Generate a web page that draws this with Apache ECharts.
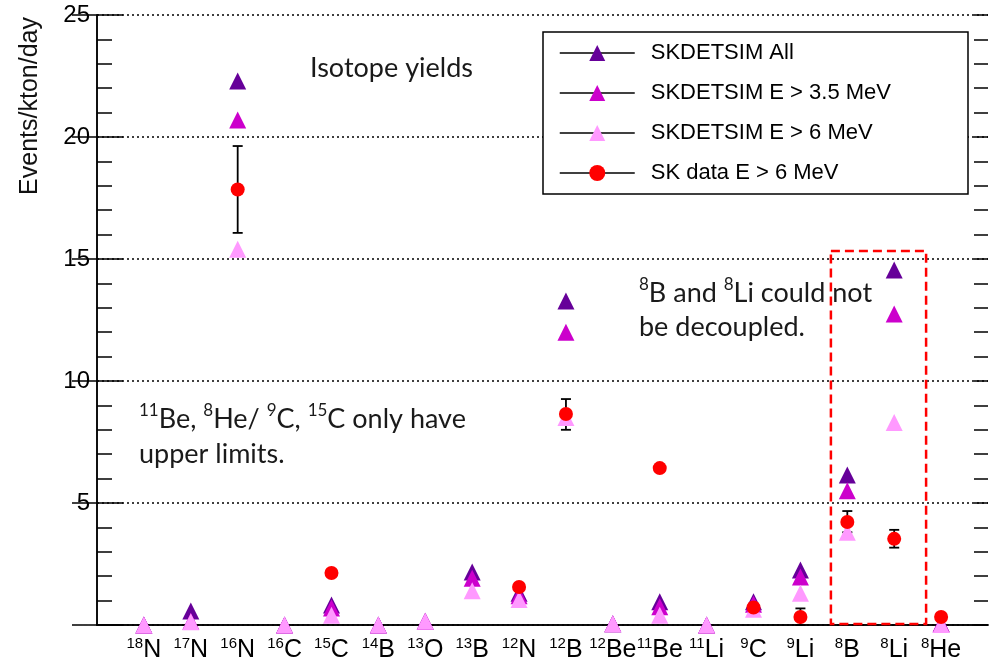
<!DOCTYPE html>
<html><head><meta charset="utf-8">
<script src="https://cdn.jsdelivr.net/npm/echarts@6/dist/echarts.min.js"></script>
<style>html,body{margin:0;padding:0;background:#fff}#c{width:993px;height:663px}</style>
</head><body><div id="c"></div>
<script>
// ---- data ----
const massNumbers = ['18','17','16','16','15','14','13','13','12','12','12','11','11','9','9','8','8','8'];
const elements    = ['N','N','N','C','C','B','O','B','N','B','Be','Be','Li','C','Li','B','Li','He'];
const simAll  = [0, 0.57, 22.3, 0, 0.82, 0, 0.15, 2.17, 1.3, 13.28, 0.05, 0.95, 0, 0.95, 2.25, 6.15, 14.55, 0.05];
const sim35   = [0, 0.15, 20.7, 0, 0.70, 0, 0.15, 1.92, 1.2, 12.0, 0.05, 0.75, 0, 0.85, 1.97, 5.5, 12.75, 0.05];
const sim6    = [0, 0.13, 15.4, 0, 0.40, 0, 0.15, 1.40, 1.05, 8.5, 0.05, 0.40, 0, 0.65, 1.30, 3.8, 8.3, 0.02];
const skData  = [null, null, 17.85, null, 2.13, null, null, null, 1.56, 8.65, null, 6.43, null, 0.72, 0.33, 4.22, 3.53, 0.33];
const errLow  = [null, null, 16.07, null, null, null, null, null, null, 8.0, null, null, null, null, 0, 3.8, 3.17, null];
const errHigh = [null, null, 19.63, null, null, null, null, null, null, 9.26, null, null, null, null, 0.68, 4.67, 3.9, null];
const seriesNames = ['SKDETSIM All', 'SKDETSIM E > 3.5 MeV', 'SKDETSIM E > 6 MeV', 'SK data E > 6 MeV'];
const yTicks = [0, 5, 10, 15, 20, 25];
// highlight box (data units): x from 15.65 to 17.68, y from 0.04 to 15.33
const boxX = [15.65, 17.68];
const boxY = [0.04, 15.33];

// ---- chart ----
const chart = echarts.init(document.getElementById('c'));
const pts = arr => arr.map((v, i) => v == null ? null : [i + 1, v]).filter(Boolean);
const errData = errLow.map((lo, i) => lo == null ? null : [i + 1, lo, errHigh[i]]).filter(Boolean);
const FONT = '"Liberation Sans", Arial, sans-serif';
const NOTE_FONT = 'Lato, "Open Sans", sans-serif';

function triSeries(name, arr, color) {
  return {
    name, type: 'line', data: pts(arr), symbol: 'triangle', symbolSize: 17,
    showSymbol: true, showAllSymbol: true,
    itemStyle: { color }, lineStyle: { opacity: 0, width: 0 },
    emphasis: { disabled: true }, silent: true, animation: false
  };
}

const axisLineStyle = { color: '#000', width: 1.5 };
function tickAxis(position, interval, len, showLine) {
  return {
    type: 'value', position, min: 0, max: 25, interval,
    axisLine: { show: showLine, lineStyle: axisLineStyle },
    axisTick: { show: true, inside: true, length: len, lineStyle: axisLineStyle },
    splitLine: { show: false }, axisLabel: { show: false }
  };
}

const option = {
  animation: false,
  grid: { left: 97, right: 5, top: 15, bottom: 38, containLabel: false },
  legend: {
    data: seriesNames, orient: 'vertical', left: 543, top: 32,
    padding: [10, 77, 10, 16], itemWidth: 75, itemHeight: 20, itemGap: 18,
    backgroundColor: '#fff', borderColor: '#000', borderWidth: 1.5,
    lineStyle: { color: '#000', width: 1.5, opacity: 1, type: 'solid' },
    textStyle: { fontFamily: FONT, fontSize: 22, color: '#000', padding: [0, 0, 0, 11] },
    selectedMode: false
  },
  xAxis: [{
    type: 'value', min: 0, max: 19, interval: 1,
    axisLine: { show: true, lineStyle: axisLineStyle }, axisTick: { show: false }, splitLine: { show: false },
    axisLabel: {
      margin: 11,
      formatter: v => (v >= 1 && v <= 18) ? '{s|' + massNumbers[v - 1] + '}{n|' + elements[v - 1] + '}' : '',
      rich: {
        s: { fontFamily: FONT, fontSize: 15, color: '#000', verticalAlign: 'top', lineHeight: 15 },
        n: { fontFamily: FONT, fontSize: 25, color: '#000', lineHeight: 28 }
      }
    }
  }, {
    type: 'value', position: 'top', min: 0, max: 19, interval: 1,
    axisLine: { show: true, lineStyle: axisLineStyle }, axisTick: { show: false },
    axisLabel: { show: false }, splitLine: { show: false }
  }],
  yAxis: [{
    type: 'value', min: 0, max: 25, interval: 5,
    axisLine: { show: true, lineStyle: axisLineStyle },
    axisTick: { show: true, inside: true, length: 26, lineStyle: axisLineStyle },
    splitLine: { show: true, lineStyle: { color: '#000', width: 1.5, type: [2, 3] } },
    axisLabel: { fontFamily: FONT, fontSize: 24, color: '#000', margin: 7,
      formatter: v => (yTicks.indexOf(v) > 0 ? String(v) : '') }
  },
    tickAxis('right', 5, 25, true),
    tickAxis('left', 1, 15, false),
    tickAxis('right', 1, 14, false)
  ],
  series: [
    triSeries(seriesNames[0], simAll, '#660099'),
    triSeries(seriesNames[1], sim35, '#cc00cc'),
    triSeries(seriesNames[2], sim6, '#ff99ff'),
    {
      name: 'err', type: 'custom', data: errData, encode: { x: 0, y: [1, 2] }, silent: true,
      renderItem: (params, api) => {
        const x = api.value(0);
        const p1 = api.coord([x, api.value(1)]);
        const p2 = api.coord([x, api.value(2)]);
        const st = { stroke: '#000', lineWidth: 1.8 };
        const w = 5;
        return { type: 'group', children: [
          { type: 'line', shape: { x1: p1[0], y1: p1[1], x2: p2[0], y2: p2[1] }, style: st },
          { type: 'line', shape: { x1: p1[0] - w, y1: p1[1], x2: p1[0] + w, y2: p1[1] }, style: st },
          { type: 'line', shape: { x1: p2[0] - w, y1: p2[1], x2: p2[0] + w, y2: p2[1] }, style: st }
        ]};
      }
    },
    {
      name: seriesNames[3], type: 'line', data: pts(skData), symbol: 'circle', symbolSize: 14,
      showSymbol: true, showAllSymbol: true,
      itemStyle: { color: '#ff0000' }, lineStyle: { opacity: 0, width: 0 },
      emphasis: { disabled: true }, silent: true,
      markArea: {
        silent: true,
        itemStyle: { color: 'rgba(0,0,0,0)', borderColor: '#ff0000', borderWidth: 2.5, borderType: [9, 5] },
        data: [[{ coord: [boxX[0], boxY[1]] }, { coord: [boxX[1], boxY[0]] }]]
      }
    }
  ],
  graphic: [
    { type: 'text', x: 30, y: 106, rotation: Math.PI / 2, silent: true,
      style: { text: 'Events/kton/day', font: '25px ' + FONT, fill: '#111', align: 'center', verticalAlign: 'middle' } },
    { type: 'text', x: 310, y: 68, silent: true,
      style: { text: 'Isotope yields', font: '27px ' + NOTE_FONT, fill: '#1a1a1a', verticalAlign: 'middle' } },
    { type: 'text', x: 639, y: 310, silent: true,
      style: {
        text: '{s|8}{n|B and }{s|8}{n|Li could not}\n{n|be decoupled.}',
        verticalAlign: 'middle',
        rich: {
          s: { font: '17px ' + NOTE_FONT, fill: '#1a1a1a', verticalAlign: 'top', lineHeight: 17 },
          n: { font: '27px ' + NOTE_FONT, fill: '#1a1a1a', lineHeight: 34 }
        }
      } },
    { type: 'text', x: 139, y: 437, silent: true,
      style: {
        text: '{s|11}{n|Be, }{s|8}{n|He/ }{s|9}{n|C, }{s|15}{n|C only have}\n{n|upper limits.}',
        verticalAlign: 'middle',
        rich: {
          s: { font: '17px ' + NOTE_FONT, fill: '#1a1a1a', verticalAlign: 'top', lineHeight: 17 },
          n: { font: '27px ' + NOTE_FONT, fill: '#1a1a1a', lineHeight: 35 }
        }
      } }
  ]
};
chart.setOption(option);
</script></body></html>
